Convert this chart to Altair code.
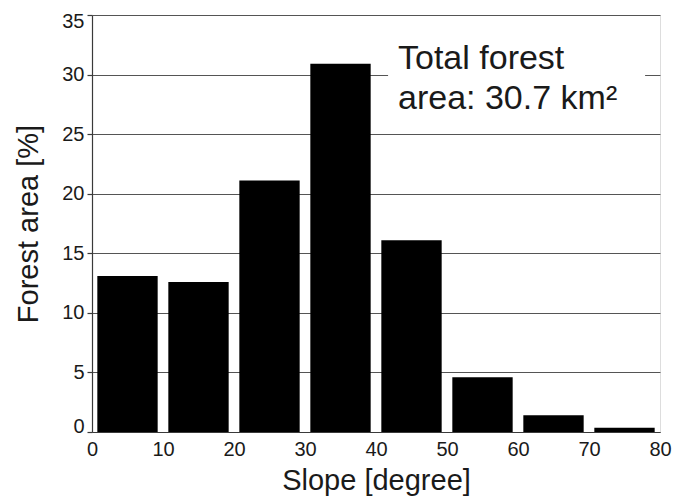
import altair as alt
import pandas as pd

bin_start = [0, 10, 20, 30, 40, 50, 60, 70]
forest_pct = [13.1, 12.6, 21.1, 30.9, 16.1, 4.6, 1.4, 0.35]

note_lines = ["Total forest", "area: 30.7 km²"]
note_x = [43.1, 43.1]
note_y = [30.45, 27.1]

bars_df = pd.DataFrame({"start": bin_start, "pct": forest_pct})
note_df = pd.DataFrame({"label": note_lines, "x": note_x, "y": note_y})
box_df = pd.DataFrame({"x1": [41.7], "x2": [77.9], "y1": [27.0], "y2": [32.0]})

FONT = "Liberation Sans"
W, H = 568, 417
AX = "#3a3a3a"
TXT = "#1a1a1a"

common = dict(
    labelFont=FONT, titleFont=FONT, labelFontSize=20, labelColor=TXT,
    titleColor=TXT, domainColor=AX, tickColor=AX, domainWidth=1.2, tickWidth=1.2,
    titleFontSize=29, titleFontWeight="normal",
)

xscale = alt.Scale(domain=[0, 80], nice=False, zero=False)
yscale = alt.Scale(domain=[0, 35], nice=False)

bars = alt.Chart(bars_df).transform_calculate(
    b0="datum.start + 0.75", b1="datum.start + 9.25"
).mark_rect(color="black").encode(
    x=alt.X("b0:Q", scale=xscale,
            axis=alt.Axis(values=[0, 10, 20, 30, 40, 50, 60, 70, 80], title="Slope [degree]",
                          grid=False, ticks=False, labelPadding=7, format="d",
                          labelFlush=False, titlePadding=7, **common)),
    x2="b1:Q",
    y=alt.Y("pct:Q", scale=yscale,
            axis=alt.Axis(values=[0, 5, 10, 15, 20, 25, 30, 35], title="Forest area [%]",
                          grid=True, gridColor="#555555", gridOpacity=1, gridWidth=1,
                          tickSize=5, labelPadding=3, format="d", labelFlush=True,
                          labelFlushOffset=4, titlePadding=18, **common)),
    y2=alt.datum(0),
)

box = alt.Chart(box_df).mark_rect(color="white").encode(
    x="x1:Q", x2="x2:Q", y="y1:Q", y2="y2:Q"
)

note = alt.Chart(note_df).mark_text(
    align="left", baseline="alphabetic", fontSize=34, font=FONT, color=TXT
).encode(x="x:Q", y="y:Q", text="label:N")

chart = alt.layer(bars, box, note).properties(
    width=W, height=H,
    autosize=alt.AutoSizeParams(type="none"),
    padding={"left": 92, "top": 15, "right": 13, "bottom": 67},
).configure_view(stroke=AX, strokeWidth=1.2).configure(background="white")

chart.save("out.html", embed_options={"renderer": "svg", "actions": False})
